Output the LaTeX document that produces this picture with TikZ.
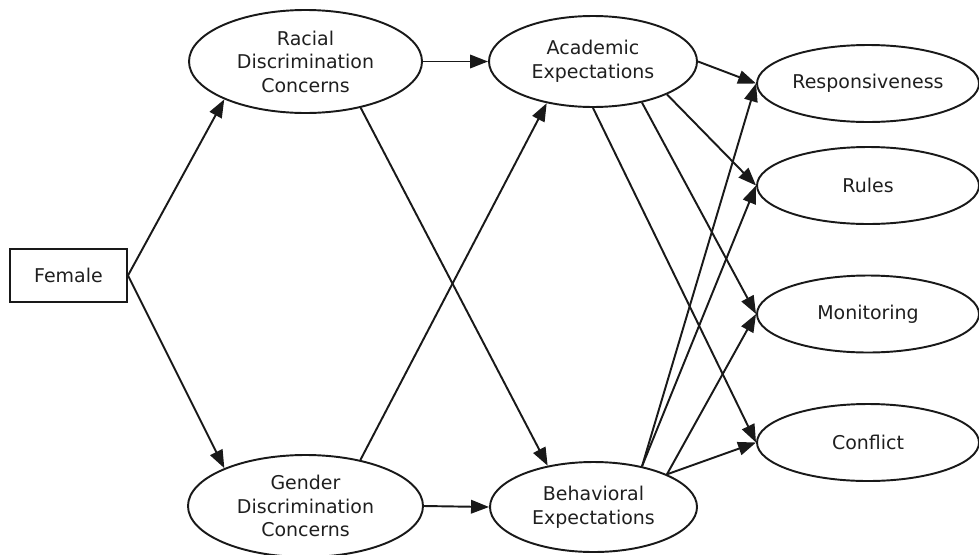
\documentclass[tikz,border=0pt]{standalone}
\usepackage{fontspec}
\setmainfont{DejaVu Sans}
\usetikzlibrary{arrows.meta,shapes.geometric}

\begin{document}
\begin{tikzpicture}[
        font=\fontsize{10.8}{13.4}\selectfont,
        var/.style={draw=black!90,ellipse,line width=1.1pt,inner sep=0pt,align=center,text=black!88},
        fleche/.style={draw=black!90,line width=1.1pt,-{Triangle[length=0.36cm,width=0.27cm]}}]
        \useasboundingbox (0,0) rectangle (19.58,-11.08);
        \node[draw=black!90,line width=1.1pt,text=black!88,minimum width=2.34cm,minimum height=1.06cm] (fem) at (1.37,-5.51) {Female};
        \node[var,minimum width=4.66cm,minimum height=2.06cm] (rac) at (6.11,-1.23) {Racial\\Discrimination\\Concerns};
        \node[var,minimum width=4.70cm,minimum height=2.04cm] (gen) at (6.11,-10.12) {Gender\\Discrimination\\Concerns};
        \node[var,minimum width=4.16cm,minimum height=1.82cm] (acad) at (11.86,-1.23) {Academic\\Expectations};
        \node[var,minimum width=4.14cm,minimum height=1.80cm] (beh) at (11.87,-10.14) {Behavioral\\Expectations};
        % variables de droite
        \node[var,minimum width=4.44cm,minimum height=1.54cm] (resp) at (17.36,-1.67) {Responsiveness};
        \node[var,minimum width=4.44cm,minimum height=1.54cm] (rul) at (17.36,-3.71) {Rules};
        \node[var,minimum width=4.44cm,minimum height=1.54cm] (mon) at (17.36,-6.28) {Monitoring};
        \node[var,minimum width=4.44cm,minimum height=1.54cm] (con) at (17.36,-8.85) {Conflict};

        \draw[fleche] (fem.east) -- (rac.205);
        \draw[fleche] (fem.east) -- (gen.155);
        \draw[fleche] (rac.east) -- (acad.west);
        \draw[fleche] (gen.east) -- (beh.west);
        \draw[fleche] (rac.320) -- (beh.138);
        \draw[fleche] (gen.40) -- (acad.222);
        \foreach \a/\b in {east/resp, 336/rul, 320/mon, 270/con}
            \draw[fleche] (acad.\a) -- (\b.west);
        \foreach \a/\b in {40/resp, 40/rul, 24/mon, 24/con}
            \draw[fleche] (beh.\a) -- (\b.west);
    \end{tikzpicture}
\end{document}
